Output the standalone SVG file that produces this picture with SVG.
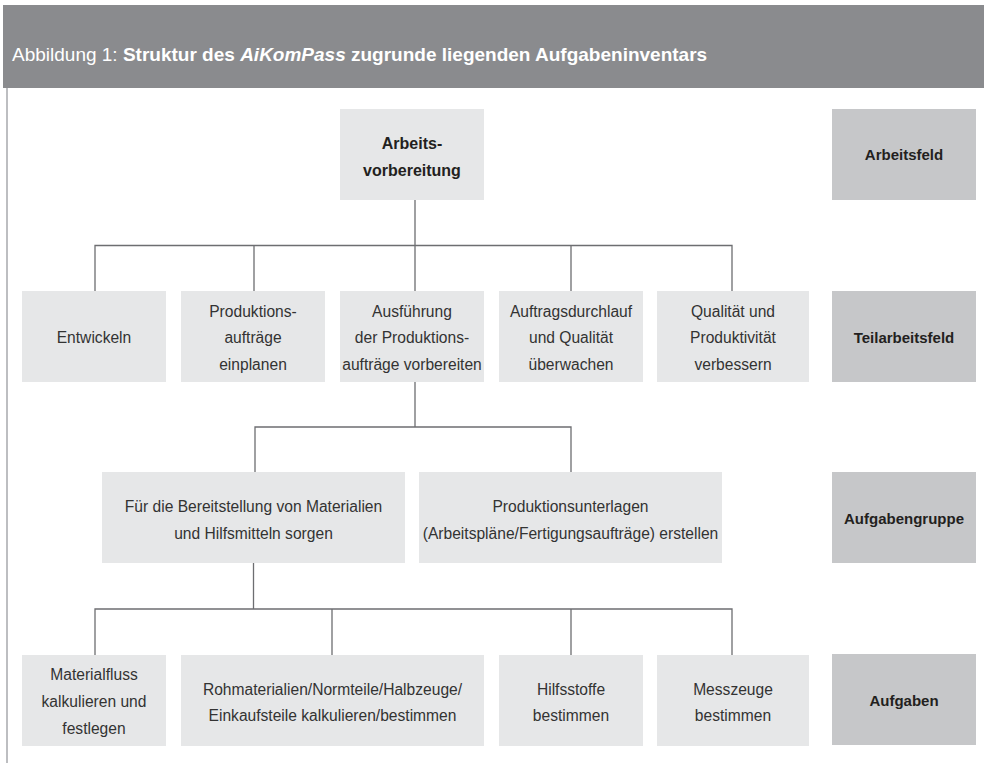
<svg xmlns="http://www.w3.org/2000/svg" width="984" height="763" viewBox="0 0 984 763">
<style>
.box{fill:#e6e7e8}
.lab{fill:#c6c7c9}
.t{font-family:"Liberation Sans",Arial,sans-serif;font-size:15.6px;fill:#333333;text-anchor:middle}
.b{font-family:"Liberation Sans",Arial,sans-serif;font-size:15px;font-weight:bold;fill:#231f20;text-anchor:middle}
.tb{font-family:"Liberation Sans",Arial,sans-serif;font-size:16px;font-weight:bold;fill:#231f20;text-anchor:middle}
.con{fill:none;stroke:#6d6e71;stroke-width:1.3}
</style>
<rect width="984" height="763" fill="#ffffff"/>
<g id="header">
<rect x="3" y="5" width="981" height="83" fill="#8a8b8e"/>
<text x="12" y="61" font-family="'Liberation Sans',Arial,sans-serif" font-size="19" fill="#ffffff">Abbildung 1: <tspan font-weight="bold">Struktur des </tspan><tspan font-weight="bold" font-style="italic">AiKomPass</tspan><tspan font-weight="bold"> zugrunde liegenden Aufgabeninventars</tspan></text>
</g>
<line x1="7" y1="88" x2="7" y2="763" stroke="#a7a9ac" stroke-width="1.5"/>
<g id="connectors">
<path class="con" d="M415 200V245.5M95 291V245.5H732V291M254 245.5V291M415 245.5V291M571 245.5V291"/>
<path class="con" d="M415 382V427M255 472V427H571V472"/>
<path class="con" d="M253.5 563V609M95 655V609H732V655M332 609V655M571 609V655"/>
</g>
<g id="n-arbeitsvorbereitung">
<rect class="box" x="340" y="109" width="144" height="91"/>
<text class="tb" x="412" y="148.7">Arbeits-</text>
<text class="tb" x="412" y="175.7">vorbereitung</text>
</g>
<g id="l-arbeitsfeld">
<rect class="lab" x="832" y="109" width="144" height="91"/>
<text class="b" x="904" y="160.3">Arbeitsfeld</text>
</g>
<g id="n-entwickeln">
<rect class="box" x="22" y="291" width="144" height="91"/>
<text class="t" x="94" y="343">Entwickeln</text>
</g>
<g id="n-produktionsauftraege">
<rect class="box" x="181" y="291" width="144" height="91"/>
<text class="t" x="253" y="316.5">Produktions-</text>
<text class="t" x="253" y="343">aufträge</text>
<text class="t" x="253" y="369.5">einplanen</text>
</g>
<g id="n-ausfuehrung">
<rect class="box" x="340" y="291" width="144" height="91"/>
<text class="t" x="412" y="316.5">Ausführung</text>
<text class="t" x="412" y="343">der Produktions-</text>
<text class="t" x="412" y="369.5">aufträge vorbereiten</text>
</g>
<g id="n-auftragsdurchlauf">
<rect class="box" x="499" y="291" width="144" height="91"/>
<text class="t" x="571" y="316.5">Auftragsdurchlauf</text>
<text class="t" x="571" y="343">und Qualität</text>
<text class="t" x="571" y="369.5">überwachen</text>
</g>
<g id="n-qualitaet">
<rect class="box" x="657" y="291" width="152" height="91"/>
<text class="t" x="733" y="316.5">Qualität und</text>
<text class="t" x="733" y="343">Produktivität</text>
<text class="t" x="733" y="369.5">verbessern</text>
</g>
<g id="l-teilarbeitsfeld">
<rect class="lab" x="832" y="291" width="144" height="91"/>
<text class="b" x="904" y="343">Teilarbeitsfeld</text>
</g>
<g id="n-bereitstellung">
<rect class="box" x="102" y="472" width="303" height="91"/>
<text class="t" x="253.5" y="511.5">Für die Bereitstellung von Materialien</text>
<text class="t" x="253.5" y="538.5">und Hilfsmitteln sorgen</text>
</g>
<g id="n-produktionsunterlagen">
<rect class="box" x="419" y="472" width="303" height="91"/>
<text class="t" x="570.5" y="511.5">Produktionsunterlagen</text>
<text class="t" x="570.5" y="538.5">(Arbeitspläne/Fertigungsaufträge) erstellen</text>
</g>
<g id="l-aufgabengruppe">
<rect class="lab" x="832" y="472" width="144" height="91"/>
<text class="b" x="904" y="524">Aufgabengruppe</text>
</g>
<g id="n-materialfluss">
<rect class="box" x="22" y="655" width="144" height="91"/>
<text class="t" x="94" y="680">Materialfluss</text>
<text class="t" x="94" y="707">kalkulieren und</text>
<text class="t" x="94" y="734">festlegen</text>
</g>
<g id="n-rohmaterialien">
<rect class="box" x="181" y="655" width="303" height="91"/>
<text class="t" x="332.5" y="694.5">Rohmaterialien/Normteile/Halbzeuge/</text>
<text class="t" x="332.5" y="720.5">Einkaufsteile kalkulieren/bestimmen</text>
</g>
<g id="n-hilfsstoffe">
<rect class="box" x="499" y="655" width="144" height="91"/>
<text class="t" x="571" y="694.5">Hilfsstoffe</text>
<text class="t" x="571" y="720.5">bestimmen</text>
</g>
<g id="n-messzeuge">
<rect class="box" x="657" y="655" width="152" height="91"/>
<text class="t" x="733" y="694.5">Messzeuge</text>
<text class="t" x="733" y="720.5">bestimmen</text>
</g>
<g id="l-aufgaben">
<rect class="lab" x="832" y="654" width="144" height="91"/>
<text class="b" x="904" y="706">Aufgaben</text>
</g>
</svg>
